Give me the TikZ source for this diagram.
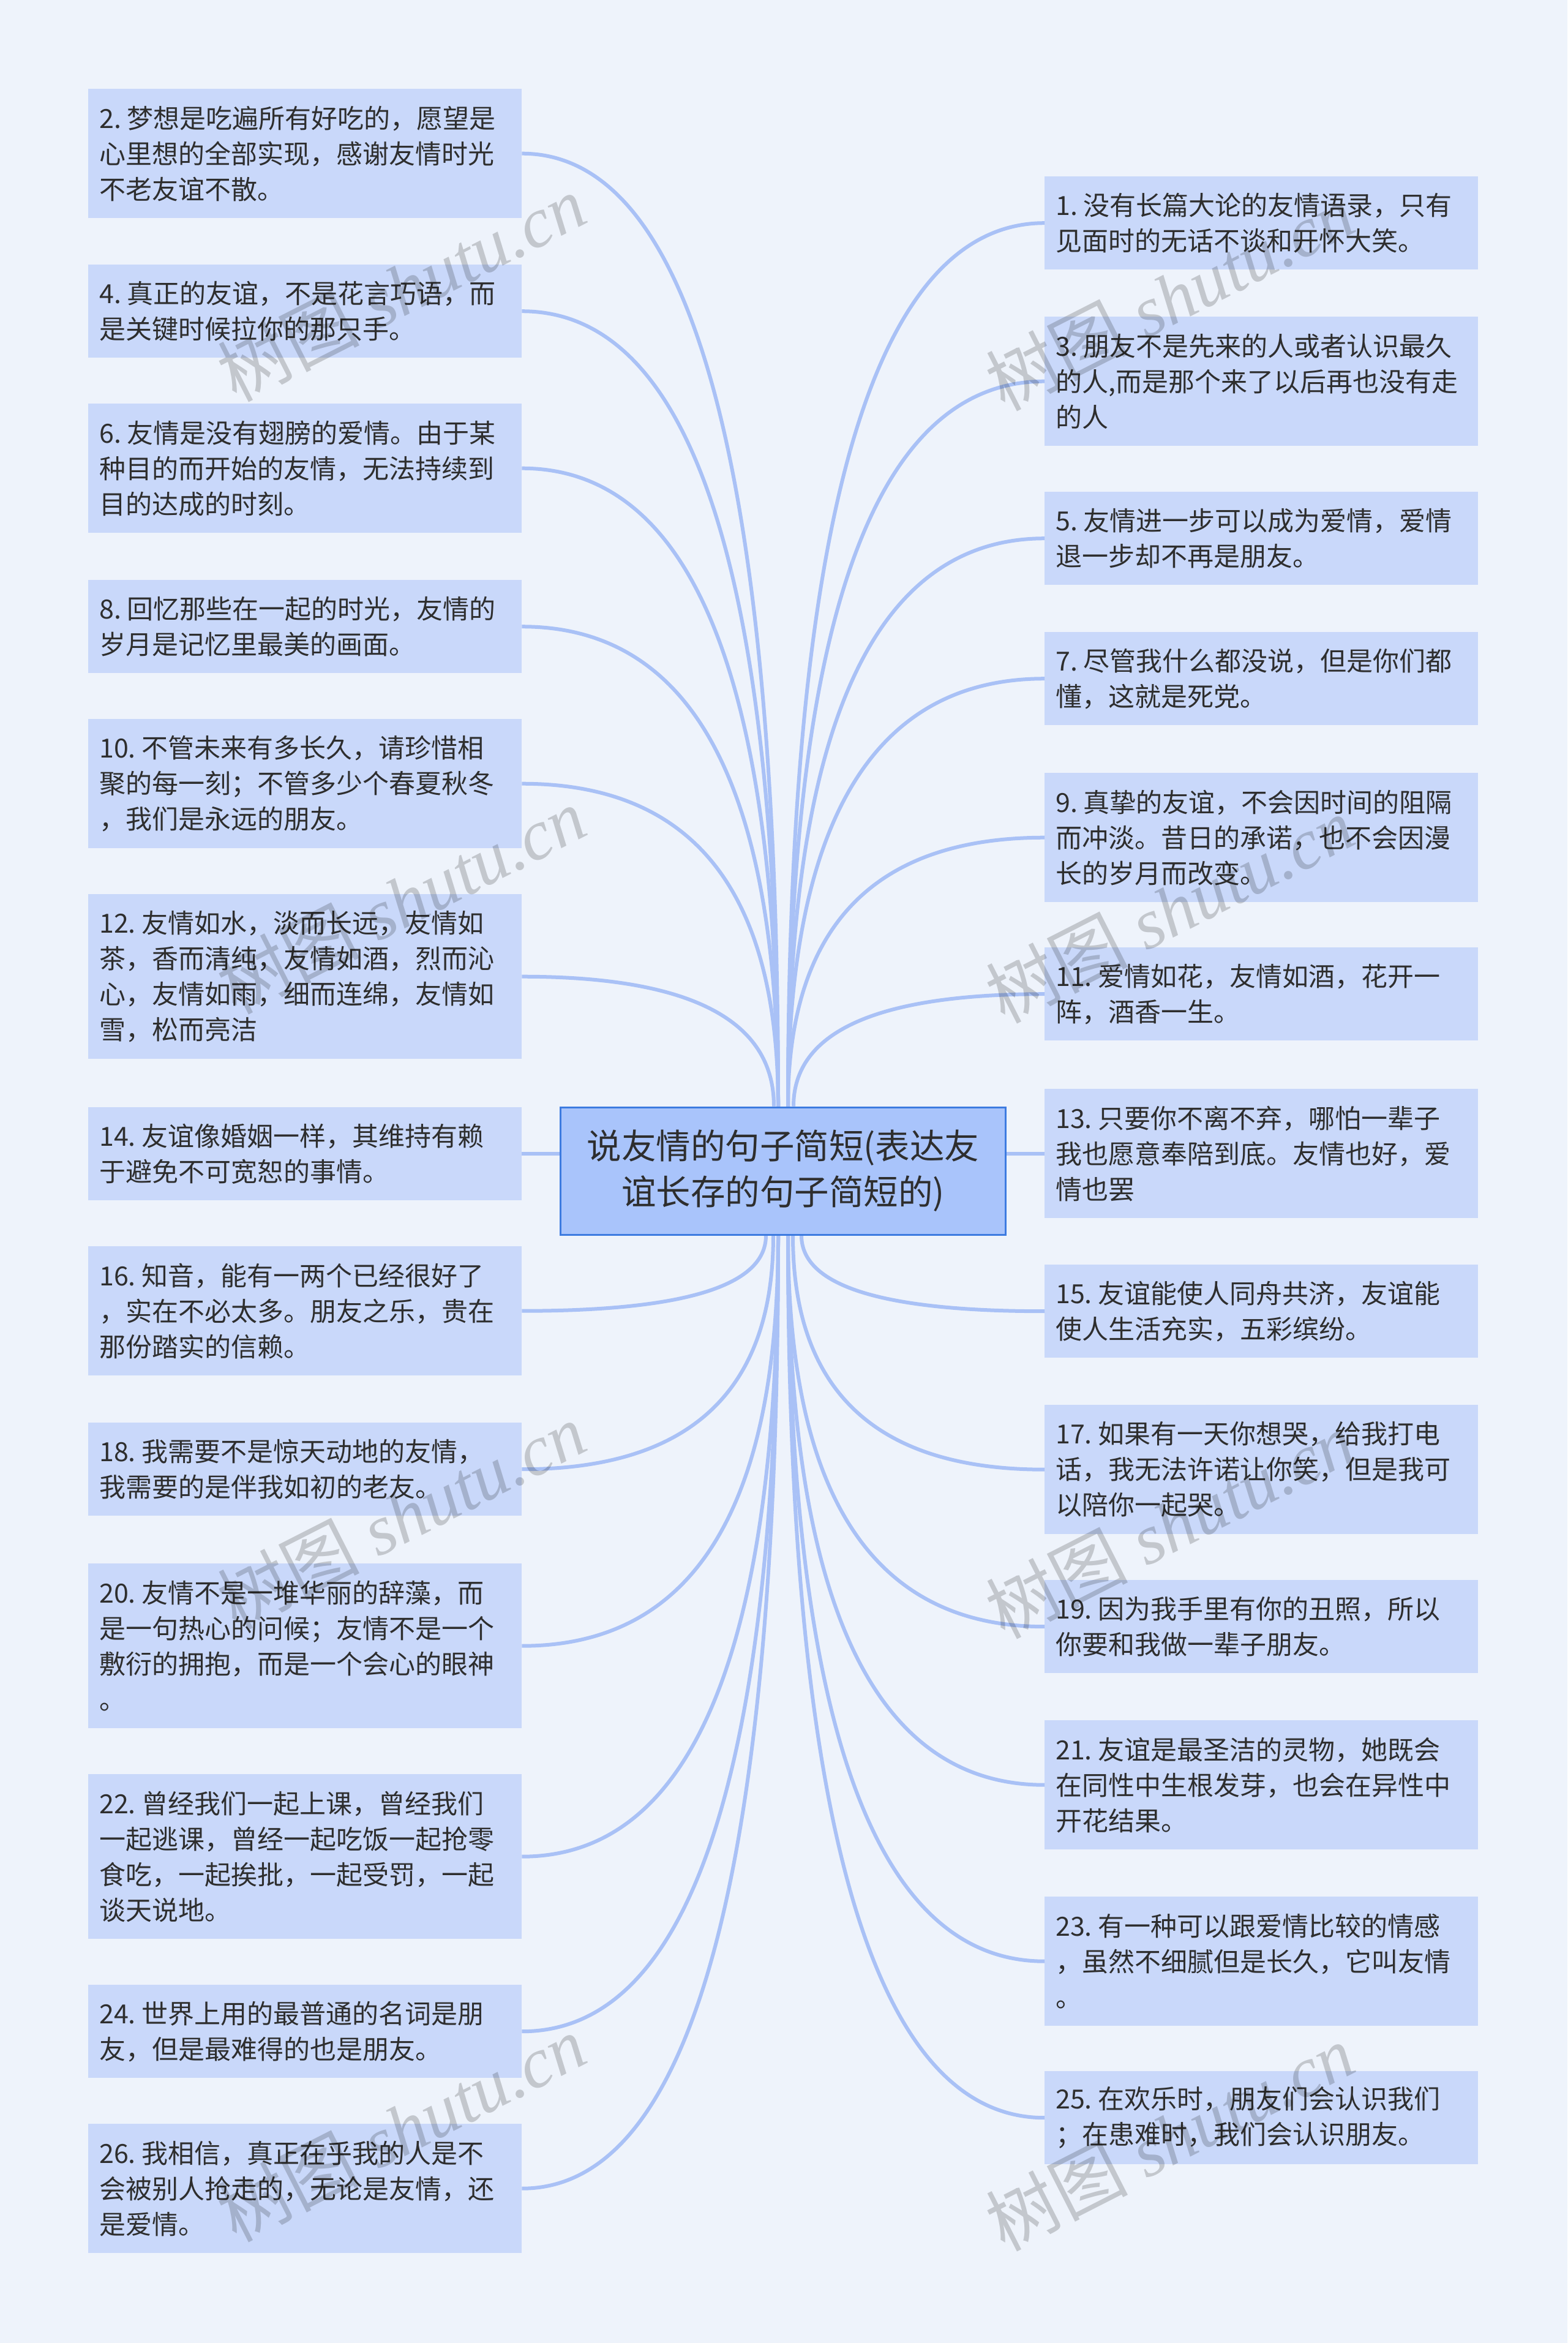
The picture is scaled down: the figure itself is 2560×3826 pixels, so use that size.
\documentclass[tikz,border=0pt]{standalone}
\usepackage{fontspec}
\setmainfont{Noto Sans CJK SC}
\newfontfamily\wmcjk{Noto Sans CJK SC}
\newfontfamily\wmlat{Liberation Serif}
\usetikzlibrary{calc}
\definecolor{bgc}{HTML}{EEF3FB}
\definecolor{leafc}{HTML}{C9D8FA}
\definecolor{rootc}{HTML}{A9C4FB}
\definecolor{rootb}{HTML}{3D7BE0}
\definecolor{linec}{HTML}{A9C1F6}
\definecolor{txtc}{HTML}{2E2E2E}
\newcommand\nsp{\kern0.22em}
\newcommand\mmconn[3]{\draw[conn] (#1) .. controls ($(#1)!0.6667!(#1 |- #2.#3)$) and ($(#2.#3)!0.6667!(#1 |- #2.#3)$) .. (#2.#3);}
\begin{document}
\begin{tikzpicture}[x=1pt,y=-1pt,
  leaf/.style={rectangle, fill=leafc, anchor=north west, text width=672pt, inner xsep=18pt, inner ysep=6pt, align=left, font=\fontsize{43}{58}\selectfont, text=txtc},
  hb/.style={minimum height=152pt},
  hc/.style={minimum height=211pt},
  hd/.style={minimum height=269pt},
  root/.style={rectangle, fill=rootc, draw=rootb, line width=3pt, minimum width=727pt, minimum height=208pt, align=center, font=\fontsize{56.5}{75}\selectfont, text=txtc},
  conn/.style={draw=linec, line width=6pt},
  wm/.style={rotate=27, text=black, opacity=0.18, font=\fontsize{116}{120}\selectfont}]
\useasboundingbox (0,0) rectangle (2560,3826);
\fill[bgc] (0,0) rectangle (2560,3826);

% root
\node[root] (c) at (1279,1912) {说友情的句子简短(表达友\\谊长存的句子简短的)};

% left nodes
\node[leaf,hc] (n2) at (144,145) {2.\nsp 梦想是吃遍所有好吃的，愿望是\\心里想的全部实现，感谢友情时光\\不老友谊不散。};
\node[leaf,hb] (n4) at (144,432) {4.\nsp 真正的友谊，不是花言巧语，而\\是关键时候拉你的那只手。};
\node[leaf,hc] (n6) at (144,659) {6.\nsp 友情是没有翅膀的爱情。由于某\\种目的而开始的友情，无法持续到\\目的达成的时刻。};
\node[leaf,hb] (n8) at (144,947) {8.\nsp 回忆那些在一起的时光，友情的\\岁月是记忆里最美的画面。};
\node[leaf,hc] (n10) at (144,1174) {10.\nsp 不管未来有多长久，请珍惜相\\聚的每一刻；不管多少个春夏秋冬\\，我们是永远的朋友。};
\node[leaf,hd] (n12) at (144,1460) {12.\nsp 友情如水，淡而长远，友情如\\茶，香而清纯，友情如酒，烈而沁\\心，友情如雨，细而连绵，友情如\\雪，松而亮洁};
\node[leaf,hb] (n14) at (144,1808) {14.\nsp 友谊像婚姻一样，其维持有赖\\于避免不可宽恕的事情。};
\node[leaf,hc] (n16) at (144,2035) {16.\nsp 知音，能有一两个已经很好了\\，实在不必太多。朋友之乐，贵在\\那份踏实的信赖。};
\node[leaf,hb] (n18) at (144,2323) {18.\nsp 我需要不是惊天动地的友情，\\我需要的是伴我如初的老友。};
\node[leaf,hd] (n20) at (144,2553) {20.\nsp 友情不是一堆华丽的辞藻，而\\是一句热心的问候；友情不是一个\\敷衍的拥抱，而是一个会心的眼神\\。};
\node[leaf,hd] (n22) at (144,2897) {22.\nsp 曾经我们一起上课，曾经我们\\一起逃课，曾经一起吃饭一起抢零\\食吃，一起挨批，一起受罚，一起\\谈天说地。};
\node[leaf,hb] (n24) at (144,3241) {24.\nsp 世界上用的最普通的名词是朋\\友，但是最难得的也是朋友。};
\node[leaf,hc] (n26) at (144,3468) {26.\nsp 我相信，真正在乎我的人是不\\会被别人抢走的，无论是友情，还\\是爱情。};

% right nodes
\node[leaf,hb] (n1) at (1706,288) {1.\nsp 没有长篇大论的友情语录，只有\\见面时的无话不谈和开怀大笑。};
\node[leaf,hc] (n3) at (1706,517) {3.\nsp 朋友不是先来的人或者认识最久\\的人,而是那个来了以后再也没有走\\的人};
\node[leaf,hb] (n5) at (1706,803) {5.\nsp 友情进一步可以成为爱情，爱情\\退一步却不再是朋友。};
\node[leaf,hb] (n7) at (1706,1032) {7.\nsp 尽管我什么都没说，但是你们都\\懂，这就是死党。};
\node[leaf,hc] (n9) at (1706,1262) {9.\nsp 真挚的友谊，不会因时间的阻隔\\而冲淡。昔日的承诺，也不会因漫\\长的岁月而改变。};
\node[leaf,hb] (n11) at (1706,1547) {11.\nsp 爱情如花，友情如酒，花开一\\阵，酒香一生。};
\node[leaf,hc] (n13) at (1706,1778) {13.\nsp 只要你不离不弃，哪怕一辈子\\我也愿意奉陪到底。友情也好，爱\\情也罢};
\node[leaf,hb] (n15) at (1706,2065) {15.\nsp 友谊能使人同舟共济，友谊能\\使人生活充实，五彩缤纷。};
\node[leaf,hc] (n17) at (1706,2294) {17.\nsp 如果有一天你想哭，给我打电\\话，我无法许诺让你笑，但是我可\\以陪你一起哭。};
\node[leaf,hb] (n19) at (1706,2580) {19.\nsp 因为我手里有你的丑照，所以\\你要和我做一辈子朋友。};
\node[leaf,hc] (n21) at (1706,2809) {21.\nsp 友谊是最圣洁的灵物，她既会\\在同性中生根发芽，也会在异性中\\开花结果。};
\node[leaf,hc] (n23) at (1706,3097) {23.\nsp 有一种可以跟爱情比较的情感\\，虽然不细腻但是长久，它叫友情\\。};
\node[leaf,hb] (n25) at (1706,3382) {25.\nsp 在欢乐时，朋友们会认识我们\\；在患难时，我们会认识朋友。};

% start points
\coordinate (tl) at ([xshift=-8pt]c.north);
\coordinate (tln) at ([xshift=-15pt]c.north);
\coordinate (tr) at ([xshift=8pt]c.north);
\coordinate (trn) at ([xshift=17pt]c.north);
\coordinate (bl) at ([xshift=-8pt]c.south);
\coordinate (bln) at ([xshift=-28pt]c.south);
\coordinate (blm) at ([xshift=-16pt]c.south);
\coordinate (br) at ([xshift=8pt]c.south);
\coordinate (brn) at ([xshift=30pt]c.south);
\coordinate (brm) at ([xshift=16pt]c.south);

% connectors
\mmconn{tl}{n2}{east}
\mmconn{tl}{n4}{east}
\mmconn{tl}{n6}{east}
\mmconn{tl}{n8}{east}
\mmconn{tl}{n10}{east}
\mmconn{tln}{n12}{east}
\draw[conn] (n14.east) -- (c.west |- n14.east);
\mmconn{bln}{n16}{east}
\mmconn{blm}{n18}{east}
\mmconn{bl}{n20}{east}
\mmconn{bl}{n22}{east}
\mmconn{bl}{n24}{east}
\mmconn{bl}{n26}{east}
\mmconn{tr}{n1}{west}
\mmconn{tr}{n3}{west}
\mmconn{tr}{n5}{west}
\mmconn{tr}{n7}{west}
\mmconn{tr}{n9}{west}
\mmconn{trn}{n11}{west}
\draw[conn] (n13.west) -- (c.east |- n13.west);
\mmconn{brn}{n15}{west}
\mmconn{brm}{n17}{west}
\mmconn{br}{n19}{west}
\mmconn{br}{n21}{west}
\mmconn{br}{n23}{west}
\mmconn{br}{n25}{west}

% redraw root on top of connector ends
\node[root] (c2) at (c) {说友情的句子简短(表达友\\谊长存的句子简短的)};

% watermarks
\foreach \wx/\wy [count=\i] in {655/470, 655/1470, 655/2475, 655/3475, 1910/485, 1910/1485, 1910/2490, 1910/3490}{
  \node[wm] (wm\i) at (\wx,\wy) {\wmcjk 树图\hspace{0.25em}\wmlat\itshape shutu.cn};
}
\end{tikzpicture}
\end{document}
